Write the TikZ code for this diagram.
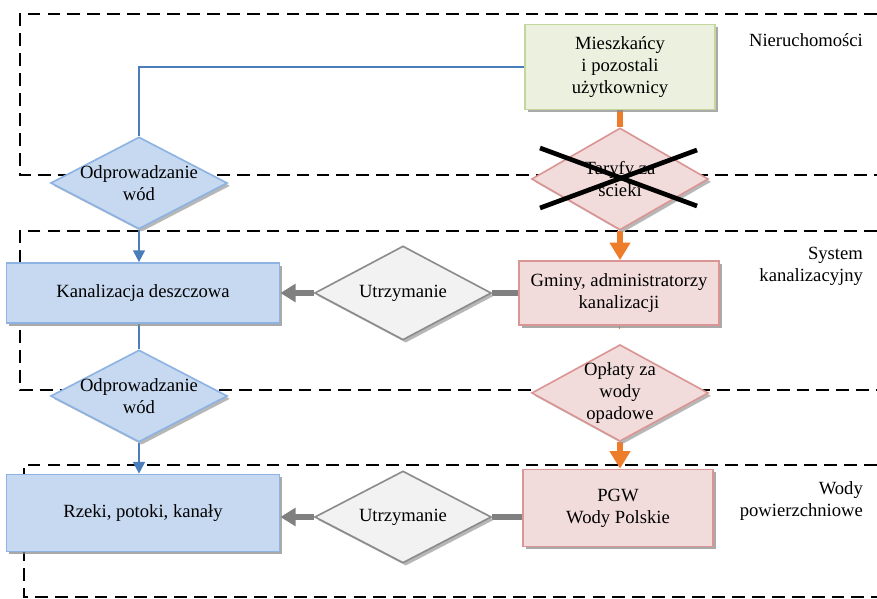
\documentclass[tikz,border=0pt]{standalone}
\usepackage{fontspec}
\setmainfont{Liberation Serif}
\usetikzlibrary{arrows.meta,shapes.geometric,shadows,backgrounds}

\definecolor{boxblue}{HTML}{C6D9F0}
\definecolor{edgeblue}{HTML}{8DB3E2}
\definecolor{boxgreen}{HTML}{EBF1DE}
\definecolor{edgegreen}{HTML}{C3D69B}
\definecolor{boxpink}{HTML}{F2DCDB}
\definecolor{edgepink}{HTML}{D99694}
\definecolor{boxgray}{HTML}{F2F2F2}
\definecolor{edgegray}{HTML}{8C8C8C}
\definecolor{flowblue}{HTML}{4A7EBB}
\definecolor{floworange}{HTML}{EE7D2B}
\definecolor{flowgray}{HTML}{808080}

\newcommand{\diagfont}{\fontsize{15.9}{18.7}\selectfont}

\tikzset{
  box/.style={draw, line width=1.4pt, align=center, inner sep=2pt,
    drop shadow={shadow xshift=2.4pt, shadow yshift=-2.4pt, fill=black!45, opacity=.75}},
  bluebox/.style={box, draw=edgeblue, fill=boxblue},
  greenbox/.style={box, draw=edgegreen, fill=boxgreen},
  pinkbox/.style={box, draw=edgepink, fill=boxpink},
  dia/.style={diamond, draw, line width=1.4pt, inner sep=0pt,
    minimum width=5.3cm, minimum height=2.76cm,
    drop shadow={shadow xshift=2.4pt, shadow yshift=-2.4pt, fill=black!40, opacity=.7}},
  bluedia/.style={dia, draw=edgeblue, fill=boxblue},
  pinkdia/.style={dia, draw=edgepink, fill=boxpink},
  graydia/.style={dia, draw=edgegray, fill=boxgray},
  dtext/.style={label={[align=center]center:#1}},
  zone/.style={draw=black, line width=1.2pt, dash pattern=on 11pt off 6pt},
  zonename/.style={anchor=east, align=right},
  blueflow/.style={draw=flowblue, line width=1.6pt},
  bluearr/.style={blueflow, -{Triangle[length=10pt,width=10pt]}},
  orangeflow/.style={draw=floworange, line width=5pt},
  orangearr/.style={orangeflow, -{Triangle[length=15pt,width=17pt]}},
  grayflow/.style={draw=flowgray, line width=5pt},
  grayarr/.style={grayflow, -{Triangle[length=13pt,width=15pt]}},
  cross/.style={draw=black, line width=4pt}
}

\begin{document}
\begin{tikzpicture}[x=0.03cm, y=-0.03cm, font=\diagfont]
  \useasboundingbox (0,0) rectangle (877,599);

  % kolumna prawa: podmioty i oplaty
  \node[greenbox, minimum width=5.7cm, minimum height=2.55cm] (mies) at (620,67) {Mieszkańcy\\i pozostali\\użytkownicy};
  \node[pinkdia, minimum height=3.06cm, dtext={Taryfy za\\scieki}] (taryfy) at (620,179) {};
  \node[pinkbox, minimum width=6.0cm, minimum height=1.92cm] (gminy) at (619,293) {Gminy, administratorzy\\kanalizacji};
  \node[pinkdia, minimum height=2.9cm, dtext={Opłaty za\\wody\\opadowe}] (oplaty) at (620,393) {};
  \node[pinkbox, minimum width=5.7cm, minimum height=2.31cm] (pgw) at (618,508) {PGW\\Wody Polskie};

  % kolumna lewa: odplyw wod
  \node[bluedia, dtext={Odprowadzanie\\wód}] (odp1) at (139,183) {};
  \node[bluebox, minimum width=8.19cm, minimum height=1.8cm] (kanal) at (143,293) {Kanalizacja deszczowa};
  \node[bluedia, dtext={Odprowadzanie\\wód}] (odp2) at (139,396) {};
  \node[bluebox, minimum width=8.19cm, minimum height=2.31cm] (rzeki) at (143,513) {Rzeki, potoki, kanały};

  % utrzymanie
  \node[graydia, minimum height=2.82cm, dtext=Utrzymanie] (utrz1) at (403,293) {};
  \node[graydia, dtext=Utrzymanie] (utrz2) at (403,517) {};

  % nazwy obszarow
  \node[zonename] (n1) at (867,40) {Nieruchomości};
  \node[zonename] (n2) at (867,266) {System\\kanalizacyjny};
  \node[zonename] (n3) at (867,501) {Wody\\powierzchniowe};

  % taryfy przekreslone
  \draw[cross] ([shift={(-80,-31)}]taryfy.center) -- ([shift={(77,27)}]taryfy.center);
  \draw[cross] ([shift={(-80,29)}]taryfy.center) -- ([shift={(77,-29)}]taryfy.center);

  \begin{scope}[on background layer]
    \draw[zone] (877,14) -| (20,175) -- (877,175);
    \draw[zone] (877,231) -| (20,390) -- (877,390);
    \draw[zone] (877,465) -| (24,597) -- (877,597);

    \draw[blueflow] (mies.west) -| (odp1.north);
    \draw[bluearr] (odp1.south) -- (odp1.south |- kanal.north);
    \draw[blueflow] (odp2.north |- kanal.south) -- (odp2.north);
    \draw[bluearr] (odp2.south) -- (odp2.south |- rzeki.north);

    \draw[orangeflow] (mies.south) -- (taryfy.north);
    \draw[orangearr] (taryfy.south) -- (taryfy.south |- gminy.north);
    \draw[orangeflow] (gminy.south) -- (gminy.south -| oplaty.north);
    \draw[orangearr] (oplaty.south) -- (oplaty.south |- pgw.north);

    \draw[grayflow] (gminy.west |- utrz1.east) -- (utrz1.east);
    \draw[grayarr] (utrz1.west) -- (kanal.east |- utrz1.west);
    \draw[grayflow] (pgw.west |- utrz2.east) -- (utrz2.east);
    \draw[grayarr] (utrz2.west) -- (rzeki.east |- utrz2.west);
  \end{scope}
\end{tikzpicture}
\end{document}
